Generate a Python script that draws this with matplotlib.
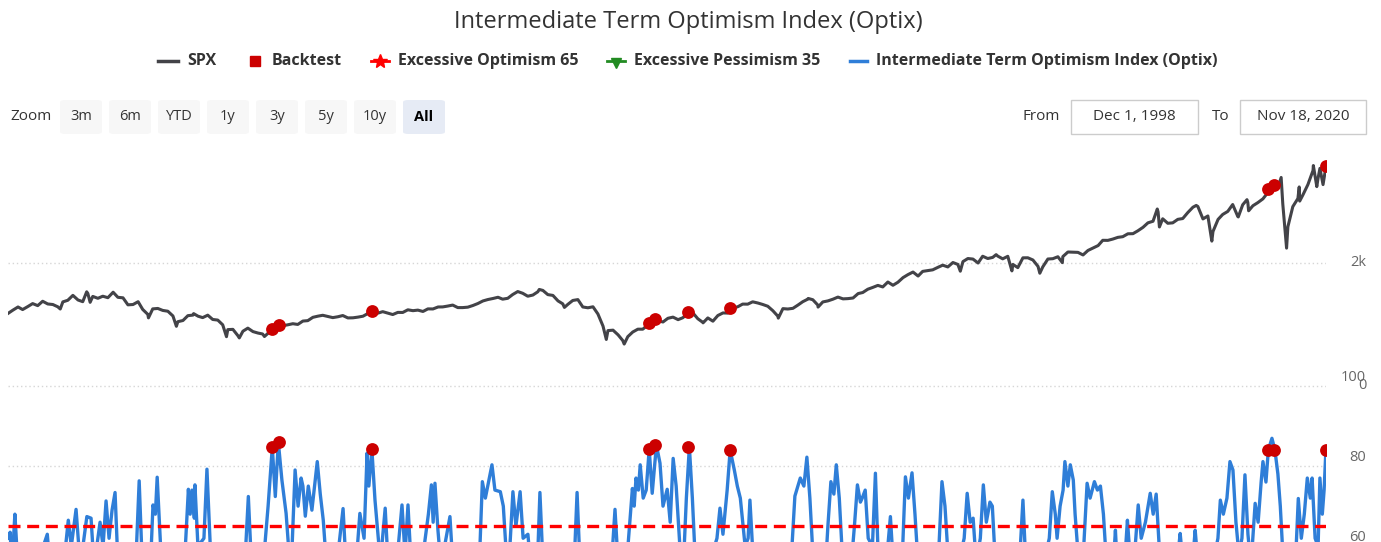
import matplotlib
matplotlib.use("Agg")
import matplotlib.pyplot as plt
import pandas as pd
from matplotlib.lines import Line2D
from matplotlib.patches import FancyBboxPatch

W, H = 1381, 542

# SPX month-end closes, Dec 1998 .. Oct 2020
spx_monthly = [
    1229,
    1280, 1238, 1286, 1335, 1302, 1373, 1329, 1320, 1283, 1363, 1389, 1469,
    1394, 1366, 1499, 1452, 1421, 1455, 1431, 1518, 1437, 1429, 1315, 1320,
    1366, 1240, 1160, 1249, 1256, 1224, 1211, 1134, 1041, 1060, 1139, 1148,
    1130, 1107, 1147, 1077, 1067, 990, 912, 916, 815, 886, 936, 880,
    856, 841, 848, 917, 964, 975, 990, 1008, 996, 1051, 1058, 1112,
    1131, 1145, 1126, 1107, 1121, 1141, 1102, 1104, 1115, 1130, 1174, 1212,
    1181, 1204, 1181, 1157, 1192, 1191, 1234, 1220, 1229, 1207, 1249, 1248,
    1280, 1281, 1295, 1311, 1270, 1270, 1277, 1304, 1336, 1378, 1401, 1418,
    1438, 1407, 1421, 1482, 1531, 1503, 1455, 1474, 1527, 1549, 1481, 1468,
    1379, 1331, 1323, 1386, 1400, 1280, 1267, 1283, 1166, 969, 896, 903,
    826, 735, 798, 873, 919, 919, 987, 1021, 1057, 1036, 1096, 1115,
    1074, 1104, 1169, 1187, 1089, 1031, 1102, 1049, 1141, 1183, 1181, 1258,
    1286, 1327, 1326, 1364, 1345, 1321, 1292, 1219, 1131, 1253, 1247, 1258,
    1312, 1366, 1408, 1398, 1310, 1362, 1379, 1407, 1441, 1412, 1416, 1426,
    1498, 1515, 1569, 1598, 1631, 1606, 1686, 1633, 1682, 1757, 1806, 1848,
    1783, 1859, 1872, 1884, 1924, 1960, 1931, 2003, 1972, 2018, 2068, 2059,
    1995, 2105, 2068, 2086, 2107, 2063, 2104, 1972, 1920, 2079, 2080, 2044,
    1940, 1932, 2060, 2065, 2097, 2099, 2174, 2171, 2168, 2126, 2199, 2239,
    2279, 2364, 2363, 2384, 2412, 2423, 2470, 2472, 2519, 2575, 2648, 2674,
    2824, 2714, 2641, 2648, 2705, 2718, 2816, 2902, 2914, 2712, 2760, 2507,
    2704, 2784, 2834, 2946, 2752, 2942, 2980, 2926, 2977, 3038, 3141, 3231,
    3226, 2954, 2585, 2912, 3044, 3100, 3271, 3500, 3363, 3270,
]

# intra-month highs / lows
spx_extra_dates = [
    "1998-12-01", "1999-10-15", "2000-03-24", "2000-04-14", "2000-09-01",
    "2001-04-04", "2001-09-21", "2002-01-04", "2002-07-23", "2002-10-09",
    "2003-03-11", "2007-10-09", "2008-03-10", "2008-11-20", "2009-03-09",
    "2010-04-23", "2010-07-02", "2011-04-29", "2011-10-03", "2012-04-02",
    "2012-06-01", "2014-10-15", "2015-05-21", "2015-08-25", "2016-02-11",
    "2016-06-27", "2018-01-26", "2018-02-08", "2018-09-20", "2018-12-24",
    "2019-04-30", "2019-06-03", "2019-07-26", "2019-08-05", "2020-02-19",
    "2020-03-23", "2020-06-08", "2020-06-11", "2020-09-02", "2020-09-23",
    "2020-10-12", "2020-11-18",
]
spx_extra_values = [
    1175, 1247, 1527, 1356, 1520,
    1103, 966, 1172, 797, 777,
    800, 1565, 1273, 752, 677,
    1217, 1022, 1364, 1099, 1419,
    1278, 1862, 2131, 1867, 1829,
    2001, 2873, 2581, 2931, 2351,
    2946, 2744, 3025, 2844, 3386,
    2237, 3232, 3002, 3580, 3237,
    3534, 3568,
]

# Optix (decimal years)
optix_year = [
    1998.92, 1998.95, 1998.98, 1999.03, 1999.08, 1999.28, 1999.57, 1999.62, 1999.82, 1999.92,
    1999.97, 2000.05, 2000.12, 2000.23, 2000.30, 2000.35, 2000.45, 2000.50, 2000.55, 2000.60,
    2000.65, 2000.70, 2000.75, 2000.95, 2001.05, 2001.10, 2001.15, 2001.28, 2001.33, 2001.37,
    2001.40, 2001.47, 2001.70, 2001.87, 2001.92, 2001.95, 2001.98, 2002.02, 2002.03, 2002.08,
    2002.18, 2002.23, 2002.30, 2002.53, 2002.87, 2002.92, 2002.97, 2003.15, 2003.25, 2003.32,
    2003.37, 2003.42, 2003.48, 2003.55, 2003.60, 2003.65, 2003.70, 2003.75, 2003.80, 2003.83,
    2003.87, 2003.92, 2003.98, 2004.07, 2004.12, 2004.17, 2004.22, 2004.37, 2004.50, 2004.55,
    2004.70, 2004.78, 2004.85, 2004.90, 2004.93, 2004.98, 2005.03, 2005.12, 2005.20, 2005.25,
    2005.37, 2005.48, 2005.53, 2005.58, 2005.63, 2005.78, 2005.92, 2005.97, 2006.00, 2006.03,
    2006.08, 2006.13, 2006.28, 2006.33, 2006.53, 2006.78, 2006.82, 2006.87, 2006.93, 2006.98,
    2007.03, 2007.12, 2007.17, 2007.22, 2007.28, 2007.33, 2007.38, 2007.45, 2007.50, 2007.58,
    2007.63, 2007.73, 2007.78, 2007.83, 2008.03, 2008.35, 2008.40, 2008.45, 2008.78, 2008.98,
    2009.03, 2009.08, 2009.22, 2009.32, 2009.35, 2009.38, 2009.42, 2009.45, 2009.50, 2009.55,
    2009.60, 2009.65, 2009.72, 2009.78, 2009.83, 2009.90, 2009.95, 2010.00, 2010.05, 2010.12,
    2010.17, 2010.22, 2010.27, 2010.32, 2010.37, 2010.53, 2010.73, 2010.78, 2010.83, 2010.90,
    2010.95, 2011.02, 2011.07, 2011.12, 2011.20, 2011.25, 2011.28, 2011.33, 2011.40, 2011.53,
    2011.95, 2012.03, 2012.12, 2012.18, 2012.23, 2012.28, 2012.33, 2012.53, 2012.58, 2012.63,
    2012.68, 2012.72, 2012.77, 2012.82, 2012.95, 2013.02, 2013.07, 2013.12, 2013.15, 2013.20,
    2013.25, 2013.32, 2013.37, 2013.42, 2013.53, 2013.62, 2013.67, 2013.82, 2013.87, 2013.92,
    2013.98, 2014.03, 2014.08, 2014.28, 2014.43, 2014.48, 2014.53, 2014.58, 2014.70, 2014.85,
    2014.90, 2014.95, 2015.00, 2015.05, 2015.12, 2015.17, 2015.22, 2015.28, 2015.32, 2015.37,
    2015.53, 2015.78, 2015.83, 2015.88, 2016.12, 2016.27, 2016.32, 2016.37, 2016.40, 2016.45,
    2016.50, 2016.53, 2016.58, 2016.62, 2016.67, 2016.70, 2016.75, 2016.83, 2016.90, 2016.95,
    2017.02, 2017.07, 2017.12, 2017.17, 2017.22, 2017.32, 2017.37, 2017.40, 2017.52, 2017.57,
    2017.62, 2017.70, 2017.75, 2017.80, 2017.87, 2017.95, 2018.00, 2018.05, 2018.10, 2018.15,
    2018.37, 2018.45, 2018.50, 2018.65, 2018.70, 2018.75, 2018.95, 2019.08, 2019.12, 2019.17,
    2019.23, 2019.28, 2019.33, 2019.38, 2019.43, 2019.48, 2019.53, 2019.58, 2019.63, 2019.70,
    2019.75, 2019.80, 2019.83, 2019.88, 2019.92, 2019.98, 2020.03, 2020.08, 2020.12, 2020.17,
    2020.28, 2020.37, 2020.42, 2020.47, 2020.52, 2020.57, 2020.62, 2020.65, 2020.70, 2020.75,
    2020.78, 2020.82, 2020.85, 2020.88,
]
optix_value = [
    62, 63.5, 55, 68, 55, 50, 63, 54, 52, 66.5,
    60, 69.2, 55, 67.4, 67, 55, 66, 60, 71.3, 62,
    69, 73.4, 55, 50, 58, 76.3, 56, 52, 70.3, 68,
    77.2, 56, 50, 60, 74.2, 68, 74, 67, 75.3, 60,
    62, 79.2, 55, 48, 58, 72.4, 56, 52, 70, 84.7,
    72.4, 86, 76.5, 68.2, 58, 60, 79, 70, 77, 75,
    67.5, 75, 69, 81.1, 73, 66.5, 56, 52, 69.4, 55,
    52, 68.2, 62, 83.2, 75, 84.2, 71.5, 56, 69.5, 55,
    52, 70.3, 58, 70.3, 56, 52, 68, 75.3, 66, 75.7,
    64, 55, 67.4, 55, 50, 60, 76.1, 72, 76.5, 80.3,
    74, 73.6, 70, 58, 60, 73.6, 65, 73.6, 62, 63,
    54, 52, 73.4, 56, 50, 55, 73.4, 55, 50, 57,
    69.2, 56, 55, 74.4, 70, 77, 74, 80.3, 72, 74,
    84.2, 73.2, 85.2, 80.7, 70, 74.2, 66, 81.9, 75, 58,
    55, 72, 84.8, 72, 56, 52, 62, 69.5, 63, 74,
    84, 79, 75, 72, 60, 62, 71.5, 58, 55, 50,
    52, 72.5, 77, 75, 82.2, 72, 58, 52, 65, 76.1,
    73, 80.3, 72, 58, 52, 65, 75.3, 71, 72, 74,
    62, 60, 78.2, 56, 52, 67.4, 55, 58, 77.3, 72,
    78.3, 68, 56, 52, 60, 76.1, 70, 58, 52, 62,
    73.2, 66, 67, 56, 62, 75.3, 66, 71, 70, 56,
    52, 58, 71.5, 55, 52, 62, 73.6, 68, 62, 70,
    74, 81.1, 75, 80.3, 76.5, 68, 58, 56, 75.7, 72,
    76.1, 74, 75, 68, 56, 52, 64, 55, 55, 66.5,
    56, 60, 70.3, 62, 66, 73.2, 68, 73, 60, 52,
    52, 63.2, 55, 55, 64, 55, 52, 62, 71.5, 68,
    72, 81.1, 79, 66, 58, 62, 77.8, 63, 55, 70.7,
    66, 76, 81.1, 76, 84, 86.9, 84, 78, 70, 56,
    45, 55, 71.9, 62, 68, 77, 72, 77, 62, 60,
    77, 68, 74, 84,
]

backtest_dates = [
    "2003-04-25", "2003-06-05", "2004-12-24", "2009-08-07", "2009-09-14",
    "2010-04-01", "2010-12-13", "2019-12-02", "2020-01-08", "2020-11-18",
]
backtest_spx = [930, 990, 1213, 1016, 1082, 1197, 1260, 3200, 3270, 3568]
backtest_optix = [84.7, 86.0, 84.2, 84.2, 85.2, 84.8, 84.0, 84.0, 84.0, 84.0]

optimism_level = 65
spx_ticks, spx_labels = [0, 2000], ["0", "2k"]
optix_ticks, optix_labels = [60, 80, 100], ["60", "80", "100"]

zoom_buttons = ["3m", "6m", "YTD", "1y", "3y", "5y", "10y", "All"]
date_from, date_to = "Dec 1, 1998", "Nov 18, 2020"


def yr_to_date(y):
    return pd.Timestamp(int(y), 1, 1) + pd.Timedelta(days=(y - int(y)) * 365.25)


spx = pd.concat([
    pd.Series(spx_monthly, index=pd.date_range("1998-12-31", periods=len(spx_monthly), freq="ME")),
    pd.Series(spx_extra_values, index=pd.to_datetime(spx_extra_dates)),
]).sort_index()
optix_dates = [yr_to_date(y) for y in optix_year]
bt_dates = pd.to_datetime(backtest_dates)

plt.rcParams["font.family"] = ["Open Sans", "DejaVu Sans"]

fig = plt.figure(figsize=(W / 100, H / 100), dpi=100)


def fx(x):
    return x / W


def fy(y):
    return 1 - y / H


x0, x1 = 8, 1326
y_zero = 385.7
ax_top = fig.add_axes([fx(x0), fy(y_zero), (x1 - x0) / W, 233.7 / H])
ax_bot = fig.add_axes([fx(x0), fy(y_zero + 401.5), (x1 - x0) / W, 401.5 / H])

xlim = (pd.Timestamp("1998-12-01"), pd.Timestamp("2020-11-18"))
grid_kw = dict(color="#d6d6d6", lw=1, linestyle=(0, (1, 2)), zorder=0)

for ax in (ax_top, ax_bot):
    ax.set_xlim(xlim)
    ax.set_xticks([])
    ax.set_yticks([])
    for s in ax.spines.values():
        s.set_visible(False)
    ax.patch.set_alpha(0)

ax_top.set_ylim(0, 3800)
ax_bot.set_ylim(0, 100)

for v, lab in zip(spx_ticks, spx_labels):
    ax_top.axhline(v, **grid_kw)
    ax_top.annotate(lab, xy=(1, v), xycoords=("axes fraction", "data"),
                    xytext=(29, 0), textcoords="offset points",
                    ha="right", va="center", fontsize=10.5, color="#666666",
                    annotation_clip=False)
for v, lab in zip(optix_ticks, optix_labels):
    ax_bot.axhline(v, **grid_kw)
    ax_bot.annotate(lab, xy=(1, v), xycoords=("axes fraction", "data"),
                    xytext=(29, 6), textcoords="offset points",
                    ha="right", va="center", fontsize=10.5, color="#666666",
                    annotation_clip=False)

ax_top.plot(spx.index, spx.values, color="#434348", lw=2.2, zorder=2)
ax_top.scatter(bt_dates, backtest_spx, s=85, color="#cc0000", zorder=3, linewidths=0)

ax_bot.plot(optix_dates, optix_value, color="#2f7ed8", lw=2.4, zorder=2)
ax_bot.axhline(optimism_level, color="#ff0000", lw=2.4, dashes=(3.6, 2.0), zorder=3)
ax_bot.scatter(bt_dates, backtest_optix, s=85, color="#cc0000", zorder=4, linewidths=0)

# title
fig.text(fx(688), fy(22), "Intermediate Term Optimism Index (Optix)", ha="center", va="center",
         fontsize=17, color="#333333")

# legend
ly = fy(61)
leg_kw = dict(ha="left", va="center", fontsize=11.5, fontweight="bold", color="#333333")
fig.add_artist(Line2D([fx(158), fx(178)], [ly, ly], color="#434348", lw=2.5))
fig.text(fx(187), ly, "SPX", **leg_kw)
fig.add_artist(Line2D([fx(255)], [ly], marker="s", ms=7.5, color="#cc0000", lw=0))
fig.text(fx(272), ly, "Backtest", **leg_kw)
fig.add_artist(Line2D([fx(371), fx(389)], [ly, ly], color="#ff0000", lw=2))
fig.add_artist(Line2D([fx(380)], [ly], marker="*", ms=10, color="#ff0000", lw=0))
fig.text(fx(398), ly, "Excessive Optimism 65", **leg_kw)
fig.add_artist(Line2D([fx(607), fx(625)], [ly, ly], color="#228b22", lw=2))
fig.add_artist(Line2D([fx(616)], [fy(63)], marker="v", ms=7, color="#228b22", lw=0))
fig.text(fx(634), ly, "Excessive Pessimism 35", **leg_kw)
fig.add_artist(Line2D([fx(850), fx(867)], [ly, ly], color="#2f7ed8", lw=2.5))
fig.text(fx(876), ly, "Intermediate Term Optimism Index (Optix)", **leg_kw)

# range selector buttons
by0, by1 = 100, 134
fig.text(fx(10), fy(117), "Zoom", ha="left", va="center", fontsize=11, color="#333333")
bx = 60
for lab in zoom_buttons:
    sel = lab == "All"
    fig.add_artist(FancyBboxPatch((fx(bx), fy(by1)), 42 / W, (by1 - by0) / H,
                                  boxstyle="round,pad=0,rounding_size=0.004",
                                  transform=fig.transFigure,
                                  facecolor="#e6ebf5" if sel else "#f7f7f7", edgecolor="none"))
    fig.text(fx(bx + 21), fy(117), lab, ha="center", va="center", fontsize=10.5,
             color="#000000" if sel else "#333333", fontweight="bold" if sel else "normal")
    bx += 49

fig.text(fx(1060), fy(116), "From", ha="right", va="center", fontsize=11, color="#333333")
fig.text(fx(1230), fy(116), "To", ha="right", va="center", fontsize=11, color="#333333")
for (bl, br), lab in zip([(1071, 1198), (1240, 1366)], [date_from, date_to]):
    fig.add_artist(FancyBboxPatch((fx(bl), fy(by1)), (br - bl) / W, (by1 - by0) / H,
                                  boxstyle="square,pad=0", transform=fig.transFigure,
                                  facecolor="white", edgecolor="#cccccc", lw=1))
    fig.text(fx((bl + br) / 2), fy(116), lab, ha="center", va="center", fontsize=11,
             color="#333333")

fig.savefig("out.png", dpi=100)
